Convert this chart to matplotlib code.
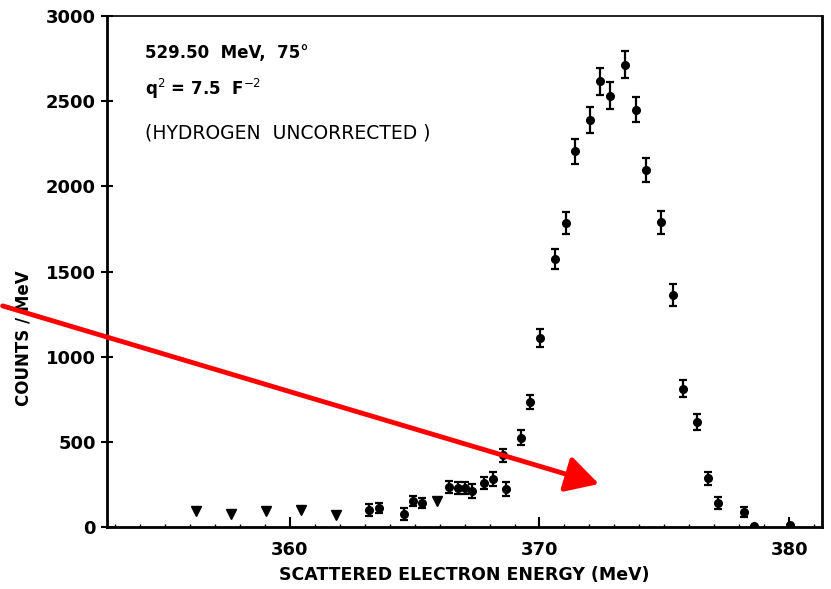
import matplotlib.pyplot as plt
from matplotlib.patches import FancyArrowPatch

# scattered electron energy (MeV) and counts/MeV
energy = [363.18, 363.57, 364.56, 364.92, 365.31, 366.36, 366.72, 367.00,
          367.28, 367.76, 368.12, 368.52, 368.64, 369.27, 369.64, 370.03,
          370.63, 371.07, 371.43, 372.03, 372.43, 372.84, 373.44, 373.87,
          374.28, 374.88, 375.33, 375.73, 376.31, 376.73, 377.16, 378.17,
          378.57, 380.03]
counts = [101, 111, 78, 154, 140, 234, 228, 228,
          211, 257, 281, 421, 225, 526, 735, 1109,
          1573, 1784, 2206, 2388, 2616, 2532, 2713, 2450,
          2094, 1788, 1363, 813, 618, 287, 140, 88,
          4, 10]
errors = [35, 30, 35, 30, 30, 35, 35, 35,
          40, 35, 40, 40, 40, 45, 43, 54,
          60, 65, 73, 75, 80, 80, 80, 75,
          70, 65, 63, 49, 46, 39, 35, 30,
          0, 0]

# points drawn as down triangles
tri_energy = [356.24, 357.64, 359.04, 360.44, 361.84, 365.91]
tri_counts = [94, 76, 94, 99, 70, 154]

fig = plt.figure(figsize=(8.31, 5.89), dpi=100)
ax = fig.add_axes([0.129, 0.105, 0.86, 0.868])

ax.errorbar(energy, counts, yerr=errors, fmt='o', color='black', ms=5.5,
            capsize=3, elinewidth=1.6, capthick=1.6)
ax.plot(tri_energy, tri_counts, 'v', color='black', ms=7)

ax.set_xlim(352.7, 381.3)
ax.set_ylim(0, 3000)
ax.set_xticks([360, 370, 380])
ax.set_xticks(range(353, 382), minor=True)
ax.set_yticks(range(0, 3001, 500))

ax.tick_params(axis='x', which='major', direction='in', length=7, width=1.5,
               labelsize=13, pad=10)
ax.tick_params(axis='x', which='minor', direction='in', length=2, width=1)
ax.tick_params(axis='y', direction='inout', length=9, width=1.5, labelsize=13)
for lab in ax.get_xticklabels() + ax.get_yticklabels():
    lab.set_fontweight('bold')
for side in ['left', 'bottom', 'right']:
    ax.spines[side].set_linewidth(2)
ax.spines['top'].set_linewidth(1.2)

ax.set_xlabel("SCATTERED ELECTRON ENERGY (MeV)", fontsize=12.5,
              fontweight='bold', labelpad=5)
ax.set_ylabel("COUNTS / MeV", fontsize=12, fontweight='bold')
ax.yaxis.set_label_coords(-0.105, 0.37)

ax.text(0.053, 0.945, "529.50  MeV,  75°", transform=ax.transAxes,
        fontsize=12, fontweight='bold', va='top')
ax.text(0.053, 0.88, "q$^{2}$ = 7.5  F$^{-2}$", transform=ax.transAxes,
        fontsize=12, fontweight='bold', va='top')
ax.text(0.053, 0.79, "(HYDROGEN  UNCORRECTED )", transform=ax.transAxes,
        fontsize=13.5, va='top')

# red arrow drawn over the figure
fig.patches.append(FancyArrowPatch(
    (0.0, 0.482), (0.724, 0.177), transform=fig.transFigure,
    arrowstyle='-|>,head_length=20,head_width=11', color='red', lw=3.5,
    mutation_scale=1))

fig.savefig("out.png", dpi=100)
